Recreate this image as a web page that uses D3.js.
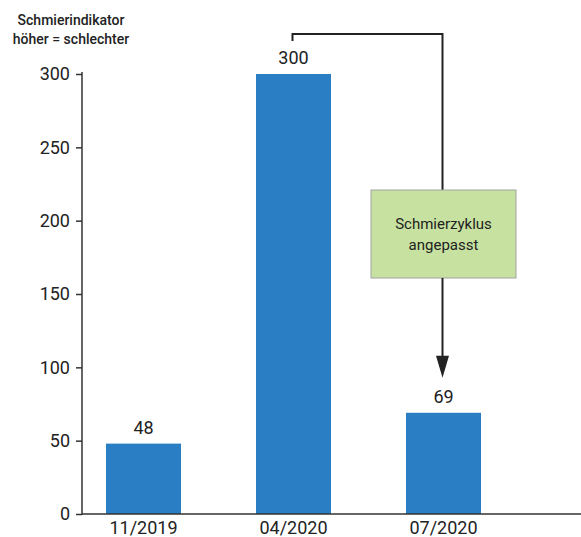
<!DOCTYPE html>
<html>
<head>
<meta charset="utf-8">
<script src="https://cdn.jsdelivr.net/npm/d3@7"></script>
<style>
  html, body { margin: 0; padding: 0; background: #fff; }
  svg { display: block; font-family: Roboto, "Noto Sans", sans-serif; }
</style>
</head>
<body>
<svg id="chart" width="581" height="537"></svg>
<script>
// Schmierindikator je Messzeitpunkt
const categories = ["11/2019", "04/2020", "07/2020"];
const values = [48, 300, 69];
const yTicks = [0, 50, 100, 150, 200, 250, 300];
const titleLines = ["Schmierindikator", "höher = schlechter"];
const noteLines = ["Schmierzyklus", "angepasst"];

const svg = d3.select("#chart");
const ink = "#222";
const axisInk = "#333";
const barColor = "#2a7fc4";
const fontFamily = "Roboto, 'Noto Sans', sans-serif";

const x = d3.scaleBand()
  .domain(categories)
  .range([82, 505])
  .paddingInner(0.5)
  .paddingOuter(0.16);

const y = d3.scaleLinear()
  .domain([0, 300])
  .range([514, 74]);

// Titel der y-Achse
svg.append("g")
  .selectAll("text")
  .data(titleLines)
  .join("text")
  .attr("x", 71)
  .attr("y", (d, i) => 25 + i * 19)
  .attr("text-anchor", "middle")
  .attr("font-size", 14)
  .attr("font-weight", 500)
  .attr("fill", ink)
  .text(d => d);

// Balken
svg.append("g")
  .selectAll("rect")
  .data(values)
  .join("rect")
  .attr("x", (d, i) => x(categories[i]))
  .attr("width", x.bandwidth())
  .attr("y", d => y(d))
  .attr("height", d => y(0) - y(d))
  .attr("fill", barColor);

// Wertebeschriftung
svg.append("g")
  .selectAll("text")
  .data(values)
  .join("text")
  .attr("x", (d, i) => x(categories[i]) + x.bandwidth() / 2)
  .attr("y", d => y(d) - 10)
  .attr("text-anchor", "middle")
  .attr("font-size", 18)
  .attr("fill", ink)
  .text(d => d);

// y-Achse
const yAxis = svg.append("g")
  .attr("transform", "translate(82,0)")
  .call(d3.axisLeft(y).tickValues(yTicks).tickSize(6).tickPadding(6));
yAxis.select(".domain").remove();
yAxis.selectAll(".tick line").attr("stroke", axisInk).attr("stroke-width", 1.5);
yAxis.selectAll(".tick text")
  .attr("font-size", 18)
  .attr("font-family", fontFamily)
  .attr("fill", ink);
svg.append("line")
  .attr("x1", 82).attr("x2", 82)
  .attr("y1", y(300) - 2).attr("y2", y(0) + 1)
  .attr("stroke", axisInk).attr("stroke-width", 1.5);

// x-Achse
const xAxis = svg.append("g")
  .attr("transform", `translate(0,${y(0)})`)
  .call(d3.axisBottom(x).tickSize(0).tickPadding(7));
xAxis.select(".domain").remove();
xAxis.selectAll(".tick text")
  .attr("font-size", 18)
  .attr("font-family", fontFamily)
  .attr("fill", ink);
svg.append("line")
  .attr("x1", 82).attr("x2", 581)
  .attr("y1", y(0)).attr("y2", y(0))
  .attr("stroke", axisInk).attr("stroke-width", 1.5);

// Verbindung von 04/2020 zur Hinweisbox
const cFrom = x(categories[1]) + x.bandwidth() / 2 - 1;
const cTo = x(categories[2]) + x.bandwidth() / 2 - 1;
svg.append("path")
  .attr("d", `M${cFrom},41 V34 H${cTo} V190`)
  .attr("fill", "none")
  .attr("stroke", ink)
  .attr("stroke-width", 2);

// Hinweisbox
svg.append("rect")
  .attr("x", 371).attr("y", 190)
  .attr("width", 145).attr("height", 88)
  .attr("fill", "#c6e1a0")
  .attr("stroke", "#a3a3a3")
  .attr("stroke-width", 1);
svg.append("g")
  .selectAll("text")
  .data(noteLines)
  .join("text")
  .attr("x", 443.5)
  .attr("y", (d, i) => 229 + i * 21)
  .attr("text-anchor", "middle")
  .attr("font-size", 15)
  .attr("fill", ink)
  .text(d => d);

// Pfeil zum Balken 07/2020
const tipY = y(values[2]) - 35;
svg.append("line")
  .attr("x1", cTo).attr("x2", cTo)
  .attr("y1", 278).attr("y2", tipY - 20)
  .attr("stroke", ink).attr("stroke-width", 2);
svg.append("path")
  .attr("d", `M${cTo - 6.5},${tipY - 22} L${cTo + 6.5},${tipY - 22} L${cTo},${tipY} Z`)
  .attr("fill", ink);
</script>
</body>
</html>
